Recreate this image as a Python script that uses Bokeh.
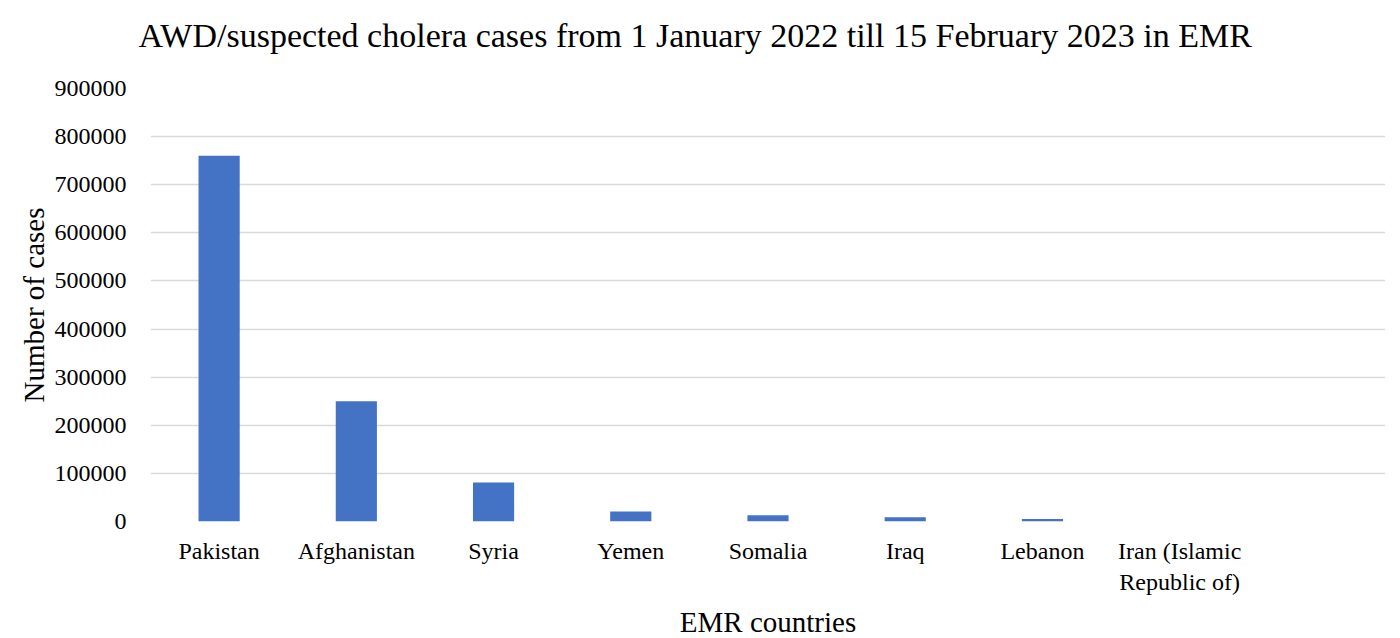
from bokeh.plotting import figure
from bokeh.models import Range1d, FactorRange, Title
from bokeh.embed import file_html
from bokeh.resources import INLINE

countries = ["Pakistan", "Afghanistan", "Syria", "Yemen", "Somalia", "Iraq",
             "Lebanon", "Iran (Islamic\nRepublic of)"]
cases = [760000, 250000, 81000, 21000, 13000, 9000, 5000, 0]
extra_slot = [" "]
y_ticks = [0, 100000, 200000, 300000, 400000, 500000, 600000, 700000, 800000, 900000]
title_text = "AWD/suspected cholera cases from 1 January 2022 till 15 February 2023 in EMR"

FONT = "Liberation Serif"

p = figure(frame_width=1235, frame_height=433, x_range=FactorRange(*(countries + extra_slot)),
           y_range=Range1d(0, 900000), output_backend="svg", toolbar_location=None,
           title_location=None,
           min_border_left=150, min_border_right=0, min_border_top=85, min_border_bottom=112)

p.vbar(x=countries, top=cases, width=0.3, fill_color="#4472C4", line_color=None)

# spacer between title and frame (closest to frame), then the real title above it
p.add_layout(Title(text=" ", text_font=FONT, text_font_size="1px", standoff=14), "above")
p.add_layout(Title(text=title_text, text_font=FONT, text_font_size="34px",
                   text_font_style="normal", text_color="#000000",
                   align="left", vertical_align="top", offset=-12, standoff=32), "above")

p.outline_line_color = None
p.xgrid.grid_line_color = None
p.ygrid.grid_line_color = "#d9d9d9"
p.ygrid.grid_line_width = 1.5
p.yaxis.ticker = y_ticks
p.yaxis.formatter.use_scientific = False

for ax in (p.xaxis[0], p.yaxis[0]):
    ax.axis_line_color = None
    ax.major_tick_line_color = None
    ax.minor_tick_line_color = None
    ax.major_label_text_font = FONT
    ax.major_label_text_font_size = "24px"
    ax.major_label_text_color = "#000000"
    ax.axis_label_text_font = FONT
    ax.axis_label_text_font_size = "29px"
    ax.axis_label_text_font_style = "normal"
    ax.axis_label_text_color = "#000000"

p.yaxis.axis_label = "Number of cases"
p.xaxis.axis_label = "EMR countries"
p.yaxis.major_label_standoff = 18
p.xaxis.major_label_standoff = 10
p.xaxis.axis_label_standoff = 8
p.yaxis.axis_label_standoff = 2

open("out.html", "w").write(file_html(p, INLINE))
